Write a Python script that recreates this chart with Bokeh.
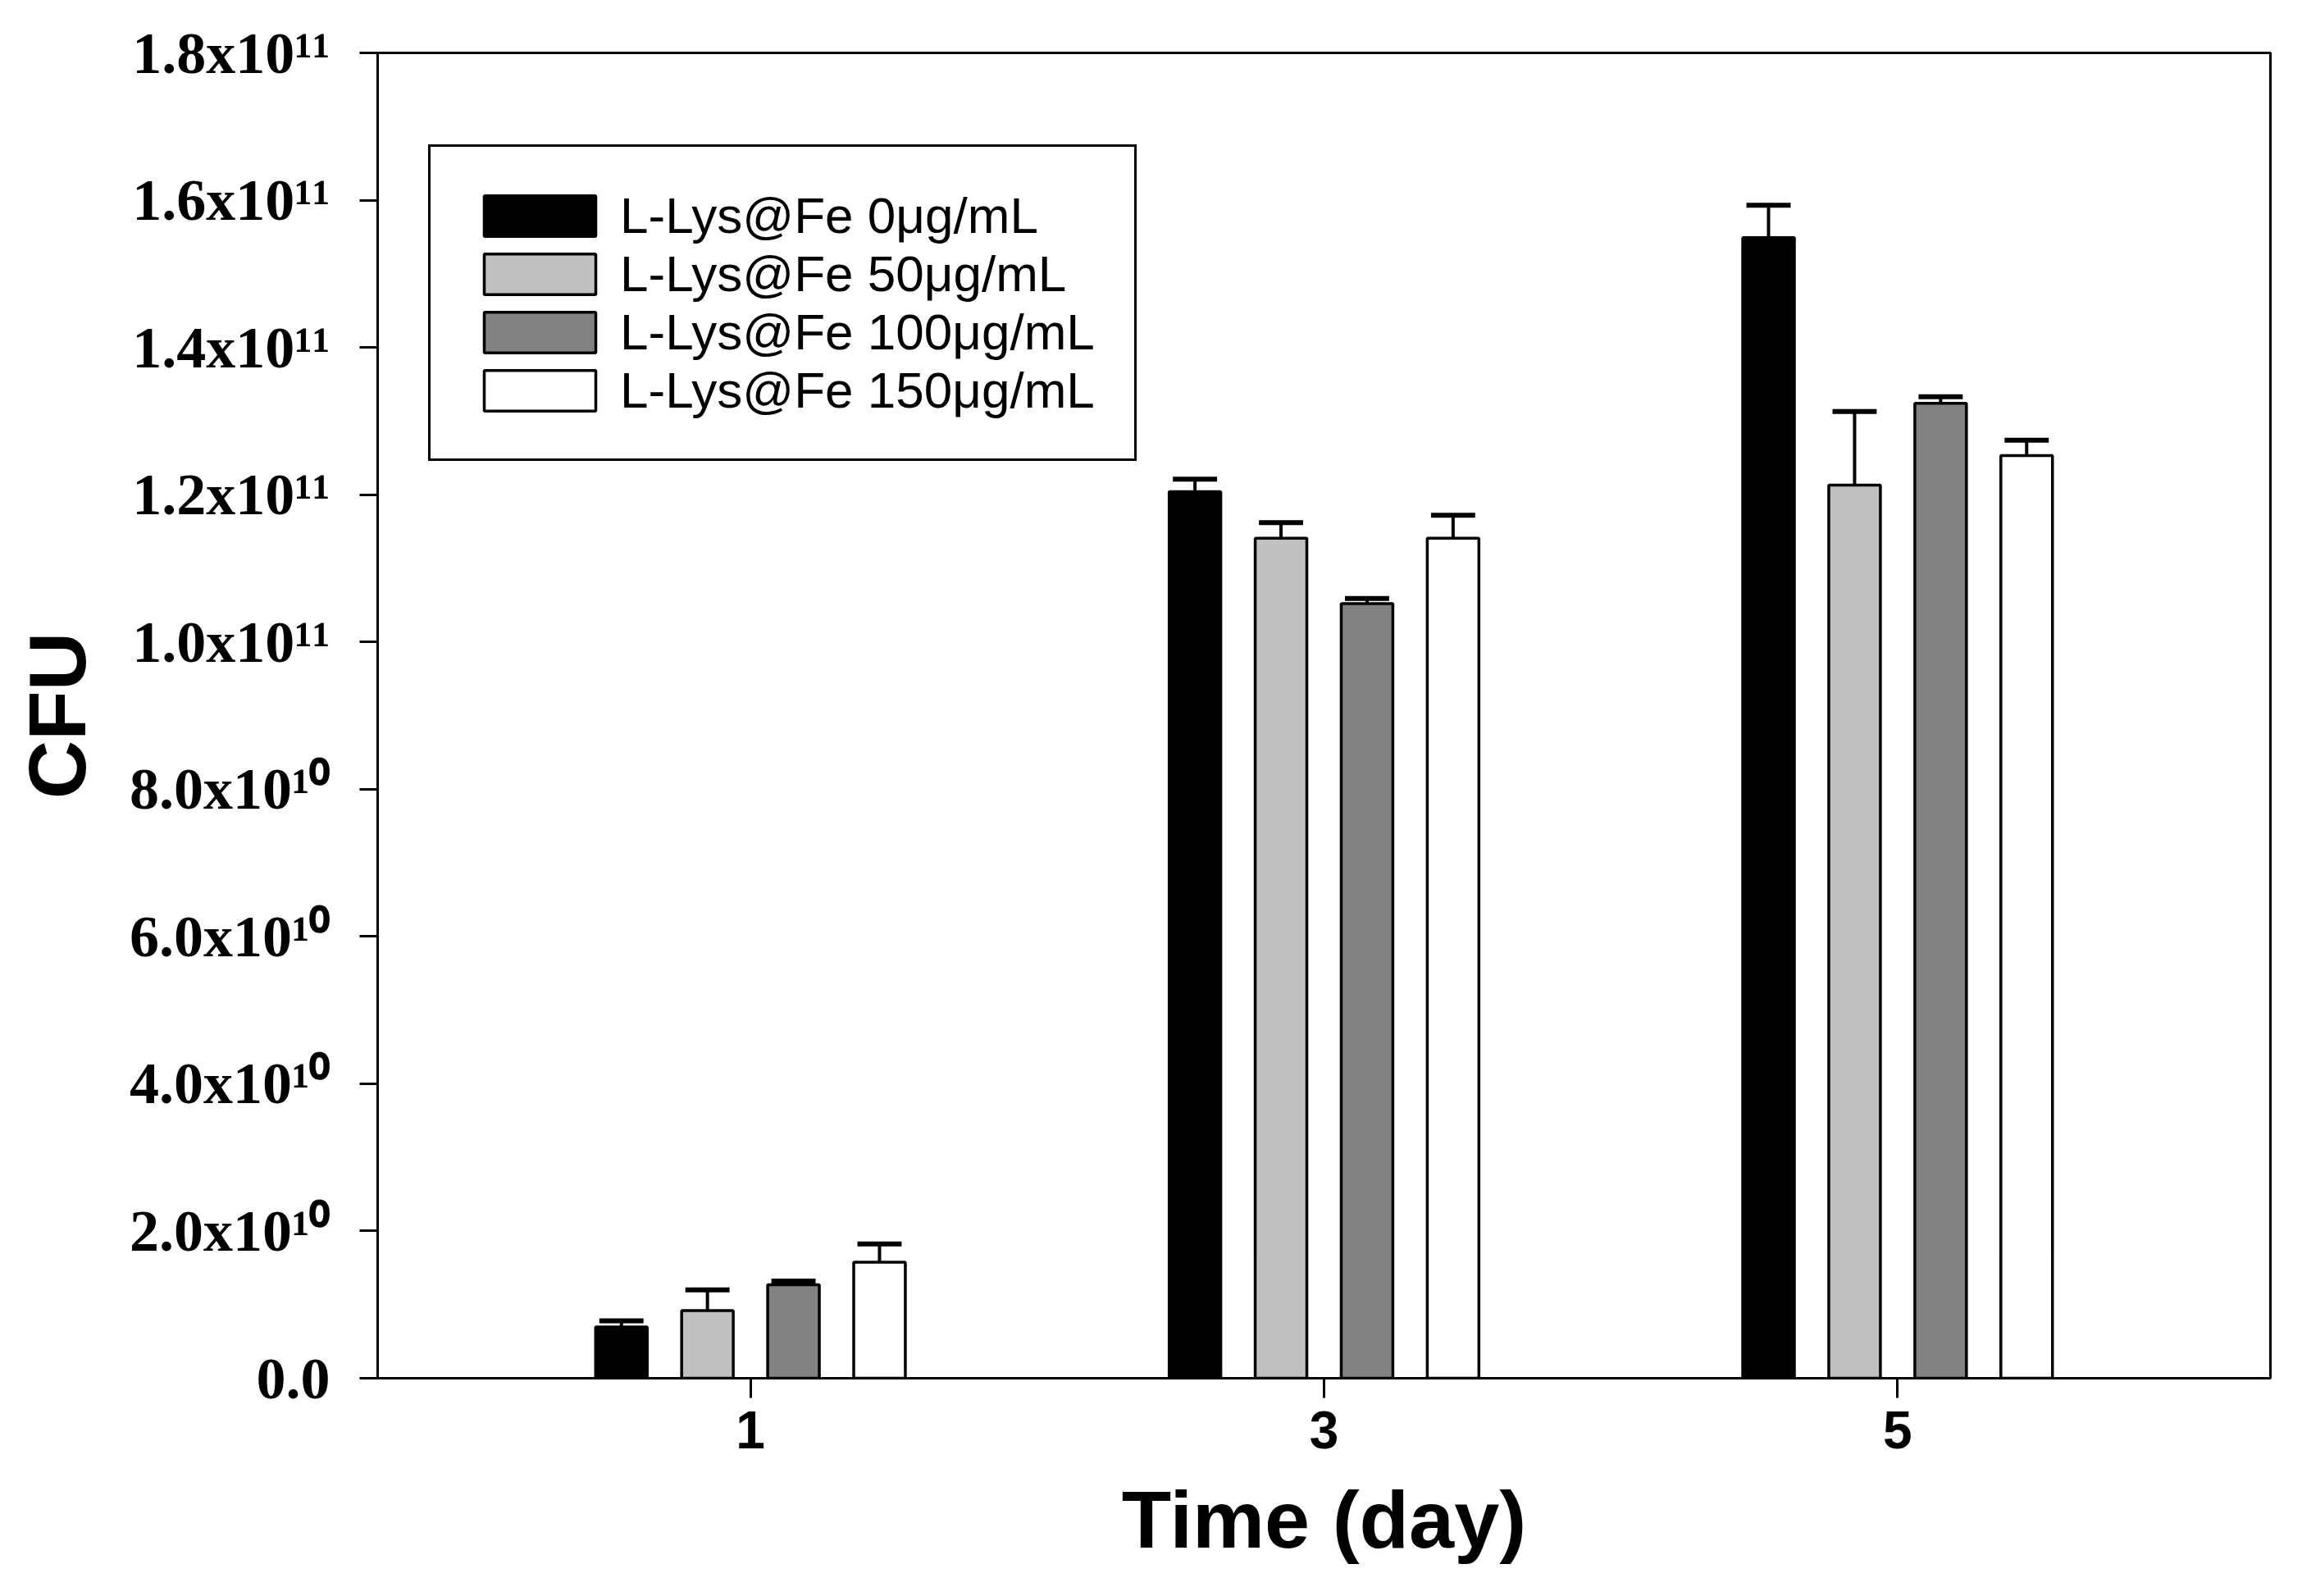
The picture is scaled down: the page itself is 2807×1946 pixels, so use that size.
from bokeh.plotting import figure
from bokeh.models import ColumnDataSource, Range1d, FixedTicker
from bokeh.transform import dodge
from bokeh.embed import file_html
from bokeh.resources import INLINE

# ---------------- data ----------------
days = [1, 3, 5]
series_names = ["L-Lys@Fe 0μg/mL", "L-Lys@Fe 50μg/mL",
                "L-Lys@Fe 100μg/mL", "L-Lys@Fe 150μg/mL"]
cfu_0 = [0.695e10, 1.204e11, 1.549e11]
err_0 = [0.085e10, 0.017e11, 0.044e11]
cfu_50 = [0.92e10, 1.141e11, 1.213e11]
err_50 = [0.28e10, 0.021e11, 0.100e11]
cfu_100 = [1.27e10, 1.052e11, 1.324e11]
err_100 = [0.05e10, 0.007e11, 0.009e11]
cfu_150 = [1.575e10, 1.141e11, 1.253e11]
err_150 = [0.25e10, 0.031e11, 0.021e11]

ytick_values = [0, 2e10, 4e10, 6e10, 8e10, 1.0e11, 1.2e11, 1.4e11, 1.6e11, 1.8e11]
ytick_labels = ["0.0", "2.0x10¹⁰", "4.0x10¹⁰", "6.0x10¹⁰", "8.0x10¹⁰",
                "1.0x10¹¹", "1.2x10¹¹", "1.4x10¹¹", "1.6x10¹¹", "1.8x10¹¹"]
xtick_values = [1, 3, 5]

# ---------------- styles ----------------
fills = ["#000000", "#c0c0c0", "#828282", "#ffffff"]
offsets = [-0.45, -0.15, 0.15, 0.45]
cap_half = 0.077
values = [cfu_0, cfu_50, cfu_100, cfu_150]
errors = [err_0, err_50, err_100, err_150]

SANS = "Liberation Sans"
SERIF = "Liberation Serif"

p = figure(width=2790, height=1930, output_backend="svg", toolbar_location=None,
           x_range=Range1d(-0.3, 6.3), y_range=Range1d(0, 1.8e11),
           min_border_left=460, min_border_right=22,
           min_border_top=64, min_border_bottom=250)
p.xgrid.visible = False
p.ygrid.visible = False
p.outline_line_color = "black"
p.outline_line_width = 3
p.outline_line_alpha = 1.0
p.background_fill_color = "white"
p.border_fill_color = "white"

for name, col, off, vals, errs in zip(series_names, fills, offsets, values, errors):
    src = ColumnDataSource(dict(day=days, top=vals,
                                upper=[v + e for v, e in zip(vals, errs)]))
    # error bars (upper only)
    p.segment(x0=dodge("day", off), x1=dodge("day", off), y0="top", y1="upper",
              source=src, line_color="black", line_width=4)
    p.segment(x0=dodge("day", off - cap_half), x1=dodge("day", off + cap_half),
              y0="upper", y1="upper", source=src, line_color="black", line_width=6)
    p.vbar(x=dodge("day", off), top="top", bottom=0, width=0.18, source=src,
           fill_color=col, line_color="black", line_width=3.5,
           legend_label=name)

# x axis
xa = p.xaxis[0]
xa.ticker = FixedTicker(ticks=xtick_values)
xa.minor_tick_line_color = None
xa.major_tick_in = 0
xa.major_tick_out = 24
xa.major_tick_line_width = 3
xa.axis_line_width = 3
xa.major_label_text_font = SANS
xa.major_label_text_font_style = "bold"
xa.major_label_text_font_size = "64px"
xa.major_label_text_color = "black"
xa.major_label_standoff = 16
xa.axis_label = "Time (day)"
xa.axis_label_text_font = SANS
xa.axis_label_text_font_style = "bold"
xa.axis_label_text_font_size = "99px"
xa.axis_label_text_color = "black"
xa.axis_label_standoff = 28

# y axis
ya = p.yaxis[0]
ya.ticker = FixedTicker(ticks=ytick_values)
ya.minor_tick_line_color = None
ya.major_tick_in = 0
ya.major_tick_out = 22
ya.major_tick_line_width = 3
ya.axis_line_width = 3
ya.major_label_overrides = {v: t for v, t in zip(ytick_values, ytick_labels)}
ya.major_label_text_font = SERIF
ya.major_label_text_font_style = "bold"
ya.major_label_text_font_size = "72px"
ya.major_label_text_color = "black"
ya.major_label_standoff = 36
ya.axis_label = "CFU"
ya.axis_label_text_font = SANS
ya.axis_label_text_font_style = "bold"
ya.axis_label_text_font_size = "99px"
ya.axis_label_text_color = "black"
ya.axis_label_standoff = 30

# legend
lg = p.legend[0]
lg.location = (62, 1118)
lg.border_line_color = "black"
lg.border_line_width = 3
lg.border_line_alpha = 1.0
lg.background_fill_color = "white"
lg.background_fill_alpha = 1.0
lg.padding = 48
lg.margin = 0
lg.spacing = 0
lg.glyph_width = 170
lg.glyph_height = 62
lg.label_standoff = 13
lg.label_text_font = SANS
lg.label_text_font_size = "62px"
lg.label_text_color = "black"

open("out.html", "w").write(file_html(p, INLINE))
